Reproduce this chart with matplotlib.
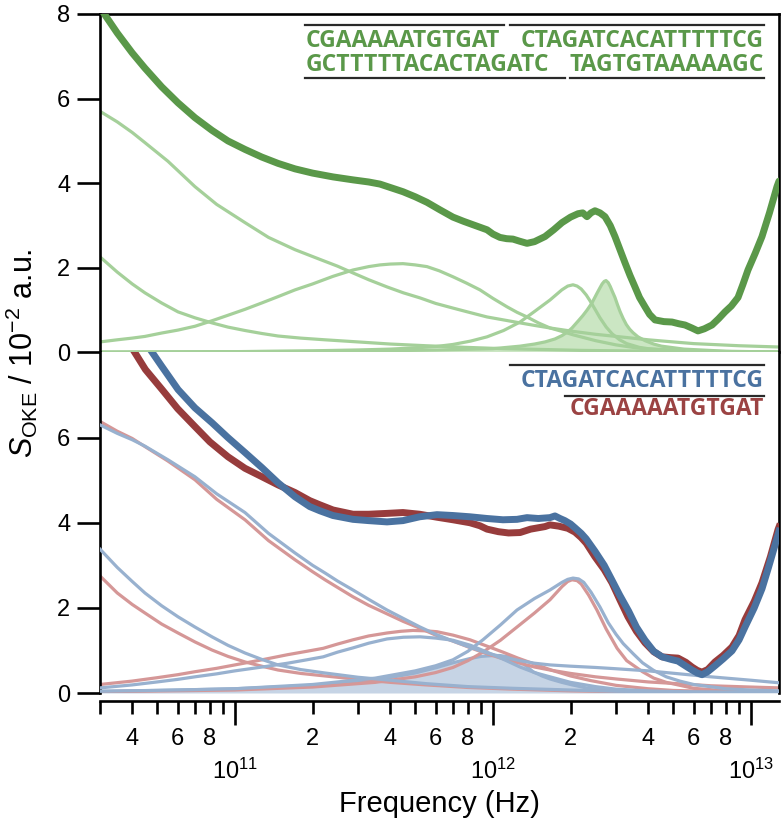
import math
import matplotlib
matplotlib.use("Agg")
import matplotlib.pyplot as plt
from matplotlib.lines import Line2D
from matplotlib.ticker import FixedLocator, FuncFormatter

plt.rcParams['font.family'] = ['Liberation Sans', 'DejaVu Sans']
plt.rcParams['mathtext.fontset'] = 'custom'
plt.rcParams['mathtext.rm'] = 'Liberation Sans'
plt.rcParams['mathtext.it'] = 'Liberation Sans:style=italic'
plt.rcParams['mathtext.bf'] = 'Liberation Sans:weight=bold'

# ---------------- data (frequency in Hz, signal in 10^-2 a.u.) ----------------
# Top panel: green duplex, measured spectrum
g_total_f = [3.0e10, 3.5e10, 4.0e10, 4.48e10, 5.2e10, 6.02e10, 7.0e10, 8.15e10, 9.4e10, 1.094e11,
             1.27e11, 1.469e11, 1.71e11, 2.0e11, 2.4e11, 2.869e11, 3.3e11, 3.651e11, 4.0e11, 4.482e11,
             5.0e11, 5.55e11, 6.2e11, 7.0e11, 7.7e11, 8.37e11, 9.49e11, 1.0e12, 1.065e12, 1.13e12,
             1.196e12, 1.27e12, 1.356e12, 1.45e12, 1.592e12, 1.72e12, 1.853e12, 2.0e12, 2.137e12, 2.23e12,
             2.316e12, 2.4e12, 2.487e12, 2.6e12, 2.72e12, 2.85e12, 2.973e12, 3.1e12, 3.251e12, 3.4e12,
             3.554e12, 3.7e12, 3.886e12, 4.05e12, 4.249e12, 4.6e12, 4.946e12, 5.25e12, 5.553e12, 5.9e12,
             6.235e12, 6.6e12, 7.068e12, 7.5e12, 7.937e12, 8.4e12, 8.913e12, 9.3e12, 9.743e12, 1.04e13,
             1.104e13, 1.18e13, 1.262e13, 1.285e13]
g_total_v = [8.15, 7.55, 7.08, 6.72, 6.28, 5.90, 5.55, 5.25, 5.00, 4.80,
             4.62, 4.47, 4.34, 4.24, 4.15, 4.08, 4.03, 3.98, 3.90, 3.80,
             3.68, 3.55, 3.38, 3.20, 3.10, 3.02, 2.90, 2.80, 2.72, 2.69,
             2.68, 2.63, 2.58, 2.62, 2.74, 2.90, 3.07, 3.20, 3.28, 3.30,
             3.21, 3.30, 3.35, 3.30, 3.21, 3.00, 2.74, 2.45, 2.12, 1.82,
             1.55, 1.30, 1.08, 0.90, 0.77, 0.73, 0.72, 0.68, 0.65, 0.58,
             0.51, 0.56, 0.65, 0.80, 0.96, 1.10, 1.30, 1.60, 1.95, 2.35,
             2.74, 3.30, 3.92, 4.05]

# fitted components (top)
gA_f = [3.0e10, 3.5e10, 4.0e10, 4.48e10, 5.5e10, 7.0e10, 8.5e10, 1.094e11, 1.35e11, 1.71e11,
        2.137e11, 2.5e11, 2.869e11, 3.3e11, 3.886e11, 4.5e11, 5.22e11, 6.0e11, 7.0e11, 8.2e11,
        9.49e11, 1.1e12, 1.274e12, 1.45e12, 1.664e12, 2.04e12, 2.5e12, 3.0e12, 4.0e12, 5.0e12,
        6.0e12, 9.0e12, 1.285e13]
gA_v = [5.70, 5.45, 5.20, 4.96, 4.52, 3.92, 3.50, 3.07, 2.72, 2.43,
        2.20, 2.04, 1.88, 1.72, 1.55, 1.41, 1.29, 1.16, 1.05, 0.94,
        0.84, 0.77, 0.70, 0.64, 0.58, 0.50, 0.43, 0.38, 0.30, 0.25,
        0.21, 0.16, 0.13]

gB_f = [3.0e10, 3.5e10, 4.0e10, 4.48e10, 5.2e10, 6.02e10, 7.0e10, 8.15e10, 9.4e10, 1.094e11,
        1.27e11, 1.469e11, 1.8e11, 2.235e11, 3.0e11, 4.0e11, 5.5e11, 8.0e11, 1.1e12, 1.6e12,
        2.2e12, 3.0e12, 6.0e12, 1.285e13]
gB_v = [2.26, 1.90, 1.62, 1.41, 1.17, 0.96, 0.82, 0.70, 0.60, 0.52,
        0.45, 0.39, 0.34, 0.30, 0.25, 0.20, 0.16, 0.12, 0.09, 0.07,
        0.05, 0.04, 0.02, 0.01]

gC_f = [3.0e10, 3.5e10, 4.0e10, 4.48e10, 5.2e10, 6.02e10, 7.0e10, 8.15e10, 9.4e10, 1.094e11,
        1.27e11, 1.469e11, 1.71e11, 2.0e11, 2.4e11, 2.869e11, 3.3e11, 3.651e11, 4.0e11, 4.482e11,
        5.0e11, 5.55e11, 6.2e11, 7.0e11, 7.9e11, 8.91e11, 1.0e12, 1.134e12, 1.24e12, 1.356e12,
        1.5e12, 1.664e12, 1.85e12, 2.04e12, 2.5e12, 3.0e12, 3.5e12, 4.0e12, 6.0e12, 1.285e13]
gC_v = [0.25, 0.30, 0.34, 0.38, 0.46, 0.53, 0.62, 0.75, 0.88, 1.02,
        1.17, 1.32, 1.48, 1.62, 1.80, 1.95, 2.03, 2.07, 2.09, 2.10,
        2.07, 2.03, 1.93, 1.79, 1.64, 1.48, 1.28, 1.08, 0.95, 0.84,
        0.70, 0.58, 0.50, 0.42, 0.28, 0.18, 0.12, 0.08, 0.03, 0.01]

gD_f = [3.0e10, 1.0e11, 2.0e11, 3.0e11, 4.0e11, 5.0e11, 6.0e11, 7.0e11, 8.2e11, 9.49e11,
        1.1e12, 1.274e12, 1.45e12, 1.664e12, 1.85e12, 1.95e12, 2.044e12, 2.12e12, 2.2e12, 2.3e12,
        2.38e12, 2.5e12, 2.6e12, 2.75e12, 2.9e12, 3.1e12, 3.3e12, 3.7e12, 4.0e12, 5.0e12,
        6.0e12, 1.285e13]
gD_v = [0.01, 0.02, 0.04, 0.06, 0.08, 0.11, 0.14, 0.19, 0.27, 0.37,
        0.52, 0.72, 0.97, 1.24, 1.48, 1.57, 1.60, 1.57, 1.50, 1.36,
        1.22, 1.00, 0.82, 0.60, 0.44, 0.30, 0.21, 0.12, 0.09, 0.05,
        0.03, 0.01]

gE_f = [3.0e10, 1.0e11, 3.0e11, 6.0e11, 1.0e12, 1.274e12, 1.45e12, 1.592e12, 1.74e12, 1.853e12,
        1.95e12, 2.026e12, 2.137e12, 2.23e12, 2.316e12, 2.42e12, 2.532e12, 2.6e12, 2.65e12, 2.7e12,
        2.744e12, 2.8e12, 2.85e12, 2.91e12, 2.973e12, 3.04e12, 3.11e12, 3.2e12, 3.29e12, 3.39e12,
        3.49e12, 3.65e12, 3.886e12, 4.2e12, 4.5e12, 5.5e12, 8.0e12, 1.285e13]
gE_v = [0.01, 0.02, 0.03, 0.06, 0.09, 0.15, 0.20, 0.25, 0.32, 0.40,
        0.49, 0.58, 0.74, 0.87, 1.00, 1.17, 1.40, 1.53, 1.62, 1.68,
        1.70, 1.65, 1.56, 1.43, 1.30, 1.13, 0.97, 0.80, 0.66, 0.55,
        0.47, 0.37, 0.28, 0.20, 0.15, 0.08, 0.03, 0.01]

# Bottom panel: single strands, measured spectra
r_total_f = [3.95e10, 4.5e10, 5.22e10, 6.0e10, 7.0e10, 8.0e10, 9.4e10, 1.094e11, 1.274e11, 1.469e11,
             1.71e11, 1.95e11, 2.137e11, 2.4e11, 2.869e11, 3.3e11, 3.886e11, 4.482e11, 5.2e11, 6.07e11,
             7.0e11, 8.15e11, 8.9e11, 9.49e11, 1.05e12, 1.15e12, 1.274e12, 1.4e12, 1.592e12, 1.664e12,
             1.8e12, 1.95e12, 2.081e12, 2.2e12, 2.3e12, 2.487e12, 2.7e12, 2.894e12, 3.1e12, 3.339e12,
             3.6e12, 3.886e12, 4.2e12, 4.523e12, 4.9e12, 5.217e12, 5.6e12, 5.911e12, 6.2e12, 6.462e12,
             6.8e12, 7.26e12, 7.8e12, 8.447e12, 9.0e12, 9.487e12, 1.03e13, 1.104e13, 1.19e13, 1.274e13,
             1.285e13]
r_total_v = [8.15, 7.60, 7.13, 6.68, 6.26, 5.90, 5.55, 5.28, 5.08, 4.89,
             4.71, 4.52, 4.42, 4.30, 4.20, 4.20, 4.22, 4.24, 4.20, 4.13,
             4.07, 4.00, 3.93, 3.85, 3.79, 3.76, 3.77, 3.85, 3.91, 3.95,
             3.92, 3.87, 3.78, 3.65, 3.52, 3.20, 2.90, 2.59, 2.20, 1.79,
             1.45, 1.18, 0.97, 0.85, 0.83, 0.82, 0.72, 0.61, 0.53, 0.49,
             0.55, 0.73, 0.88, 1.08, 1.35, 1.72, 2.15, 2.59, 3.20, 3.84,
             3.90]

b_total_f = [4.6e10, 5.2e10, 6.02e10, 7.0e10, 8.15e10, 9.4e10, 1.094e11, 1.27e11, 1.469e11, 1.71e11,
             1.95e11, 2.137e11, 2.4e11, 2.869e11, 3.3e11, 3.886e11, 4.482e11, 5.2e11, 6.07e11, 7.0e11,
             8.15e11, 9.49e11, 1.094e12, 1.24e12, 1.356e12, 1.5e12, 1.664e12, 1.74e12, 1.82e12, 1.9e12,
             2.0e12, 2.081e12, 2.2e12, 2.3e12, 2.487e12, 2.7e12, 2.894e12, 3.1e12, 3.36e12, 3.6e12,
             3.886e12, 4.2e12, 4.523e12, 4.9e12, 5.217e12, 5.6e12, 5.911e12, 6.2e12, 6.462e12, 6.8e12,
             7.26e12, 7.8e12, 8.447e12, 9.0e12, 9.487e12, 1.03e13, 1.104e13, 1.17e13, 1.274e13, 1.285e13]
b_total_v = [8.15, 7.68, 7.13, 6.70, 6.35, 6.00, 5.65, 5.30, 4.94, 4.61,
             4.38, 4.28, 4.17, 4.08, 4.05, 4.02, 4.05, 4.14, 4.19, 4.17,
             4.14, 4.10, 4.07, 4.08, 4.12, 4.10, 4.12, 4.16, 4.10, 4.05,
             3.97, 3.88, 3.75, 3.62, 3.33, 3.00, 2.65, 2.30, 1.92, 1.55,
             1.24, 0.98, 0.85, 0.79, 0.75, 0.63, 0.54, 0.47, 0.43, 0.50,
             0.64, 0.80, 0.99, 1.25, 1.55, 2.00, 2.45, 2.95, 3.72, 3.80]

# fitted components (bottom): r = red strand, b = blue strand
r1_f = [3.0e10, 3.5e10, 4.0e10, 4.48e10, 5.5e10, 7.0e10, 8.5e10, 1.094e11, 1.35e11, 1.71e11,
        2.0e11, 2.235e11, 2.5e11, 2.869e11, 3.3e11, 3.886e11, 4.5e11, 5.22e11, 6.0e11, 7.0e11,
        8.2e11, 9.49e11, 1.1e12, 1.274e12, 1.45e12, 1.664e12, 2.0e12, 2.5e12, 3.0e12, 4.0e12,
        5.5e12, 7.0e12, 1.0e13, 1.285e13]
r1_v = [6.38, 6.15, 5.98, 5.79, 5.45, 5.01, 4.55, 4.07, 3.58, 3.13,
        2.85, 2.66, 2.48, 2.26, 2.06, 1.86, 1.68, 1.52, 1.36, 1.22,
        1.06, 0.92, 0.80, 0.70, 0.61, 0.54, 0.46, 0.38, 0.33, 0.26,
        0.21, 0.17, 0.14, 0.12]

b1_f = [3.0e10, 3.5e10, 4.0e10, 4.48e10, 5.5e10, 7.0e10, 8.5e10, 1.094e11, 1.35e11, 1.71e11,
        2.0e11, 2.235e11, 2.5e11, 2.869e11, 3.3e11, 3.886e11, 4.5e11, 5.22e11, 6.0e11, 7.0e11,
        8.2e11, 9.49e11, 1.1e12, 1.274e12, 1.45e12, 1.664e12, 2.0e12, 2.5e12, 3.0e12, 4.0e12,
        5.5e12, 7.0e12, 1.0e13, 1.285e13]
b1_v = [6.30, 6.10, 5.95, 5.80, 5.48, 5.08, 4.68, 4.24, 3.75, 3.29,
        3.00, 2.82, 2.63, 2.42, 2.20, 1.95, 1.75, 1.55, 1.38, 1.22,
        1.07, 0.94, 0.84, 0.76, 0.70, 0.66, 0.63, 0.60, 0.57, 0.52,
        0.44, 0.38, 0.30, 0.24]

r2_f = [3.0e10, 3.5e10, 4.0e10, 4.48e10, 5.2e10, 6.02e10, 7.0e10, 8.15e10, 9.4e10, 1.094e11,
        1.27e11, 1.469e11, 1.8e11, 2.235e11, 3.0e11, 4.0e11, 5.5e11, 8.0e11, 1.2e12, 2.0e12,
        3.0e12, 5.0e12, 1.285e13]
r2_v = [2.75, 2.35, 2.08, 1.88, 1.62, 1.41, 1.20, 1.01, 0.86, 0.73,
        0.63, 0.54, 0.46, 0.40, 0.32, 0.25, 0.19, 0.13, 0.09, 0.05,
        0.03, 0.02, 0.01]

b2_f = [3.0e10, 3.5e10, 4.0e10, 4.48e10, 5.2e10, 6.02e10, 7.0e10, 8.15e10, 9.4e10, 1.094e11,
        1.27e11, 1.469e11, 1.8e11, 2.235e11, 3.0e11, 4.0e11, 5.5e11, 8.0e11, 1.2e12, 2.0e12,
        3.0e12, 5.0e12, 1.285e13]
b2_v = [3.38, 2.95, 2.62, 2.35, 2.05, 1.79, 1.55, 1.32, 1.12, 0.94,
        0.79, 0.66, 0.55, 0.47, 0.37, 0.30, 0.22, 0.15, 0.11, 0.07,
        0.04, 0.03, 0.01]

r3_f = [3.0e10, 4.0e10, 5.0e10, 6.0e10, 7.0e10, 8.5e10, 1.0e11, 1.274e11, 1.6e11, 1.9e11,
        2.2e11, 2.5e11, 2.869e11, 3.3e11, 3.886e11, 4.4e11, 4.9e11, 5.5e11, 6.07e11, 7.0e11,
        8.15e11, 9.5e11, 1.094e12, 1.25e12, 1.48e12, 1.7e12, 2.0e12, 2.4e12, 3.0e12, 4.0e12,
        5.0e12, 8.0e12, 1.285e13]
r3_v = [0.20, 0.28, 0.36, 0.43, 0.50, 0.58, 0.66, 0.78, 0.90, 0.98,
        1.05, 1.15, 1.25, 1.34, 1.41, 1.45, 1.47, 1.46, 1.44, 1.36,
        1.25, 1.10, 0.96, 0.82, 0.66, 0.53, 0.40, 0.29, 0.18, 0.10,
        0.06, 0.03, 0.02]

b3_f = [3.0e10, 4.0e10, 5.0e10, 6.0e10, 7.0e10, 8.5e10, 1.0e11, 1.274e11, 1.6e11, 1.9e11,
        2.2e11, 2.5e11, 2.869e11, 3.3e11, 3.886e11, 4.5e11, 5.22e11, 6.0e11, 7.0e11, 8.2e11,
        9.49e11, 1.1e12, 1.274e12, 1.45e12, 1.664e12, 2.0e12, 2.5e12, 3.0e12, 4.0e12, 6.0e12,
        1.285e13]
b3_v = [0.12, 0.19, 0.26, 0.32, 0.38, 0.45, 0.52, 0.61, 0.70, 0.78,
        0.85, 0.96, 1.06, 1.17, 1.27, 1.31, 1.32, 1.29, 1.24, 1.12,
        0.96, 0.79, 0.61, 0.48, 0.38, 0.25, 0.15, 0.09, 0.05, 0.02,
        0.01]

r4_f = [3.0e10, 1.0e11, 2.0e11, 3.5e11, 5.0e11, 6.0e11, 7.0e11, 8.0e11, 9.15e11, 1.07e12,
        1.24e12, 1.45e12, 1.664e12, 1.853e12, 1.95e12, 2.026e12, 2.12e12, 2.2e12, 2.35e12, 2.53e12,
        2.75e12, 3.03e12, 3.3e12, 3.8e12, 4.2e12, 4.7e12, 6.0e12, 8.0e12, 1.285e13]
r4_v = [0.03, 0.07, 0.14, 0.25, 0.38, 0.48, 0.60, 0.76, 0.96, 1.24,
        1.55, 1.88, 2.19, 2.50, 2.62, 2.66, 2.64, 2.56, 2.30, 1.95,
        1.50, 1.05, 0.76, 0.50, 0.35, 0.25, 0.11, 0.05, 0.02]

b4_f = [3.0e10, 6.0e10, 1.0e11, 2.0e11, 3.5e11, 5.0e11, 6.0e11, 7.0e11, 8.0e11, 9.15e11,
        1.07e12, 1.24e12, 1.45e12, 1.664e12, 1.853e12, 1.95e12, 2.044e12, 2.15e12, 2.25e12, 2.4e12,
        2.6e12, 2.8e12, 3.0e12, 3.2e12, 3.5e12, 3.8e12, 4.2e12, 4.7e12, 5.3e12, 6.0e12,
        8.0e12, 1.0e13, 1.285e13]
b4_v = [0.04, 0.07, 0.10, 0.20, 0.35, 0.52, 0.64, 0.78, 0.98, 1.25,
        1.60, 1.95, 2.22, 2.42, 2.60, 2.67, 2.70, 2.68, 2.60, 2.37,
        2.02, 1.65, 1.38, 1.16, 0.92, 0.71, 0.53, 0.38, 0.28, 0.20,
        0.10, 0.07, 0.05]

bF_f = [3.0e10, 5.0e10, 1.0e11, 1.71e11, 2.235e11, 3.0e11, 3.886e11, 5.0e11, 6.07e11, 7.0e11,
        8.15e11, 9.0e11, 1.0e12, 1.065e12, 1.15e12, 1.274e12, 1.35e12, 1.43e12, 1.55e12, 1.664e12,
        1.85e12, 2.03e12, 2.3e12, 2.6e12, 3.5e12, 6.0e12, 1.285e13]
bF_v = [0.04, 0.06, 0.10, 0.16, 0.20, 0.27, 0.35, 0.47, 0.60, 0.71,
        0.81, 0.86, 0.88, 0.88, 0.85, 0.75, 0.63, 0.50, 0.40, 0.33,
        0.25, 0.19, 0.12, 0.08, 0.03, 0.01, 0.01]

x_min, x_max = 3.0e10, 1.285e13
y_ticks_top = [0, 2, 4, 6, 8]
y_ticks_bot = [0, 2, 4, 6]
major_x = [1e11, 1e12, 1e13]
minor_x = [m * 10.0 ** e for e in (10, 11, 12) for m in range(2, 10) if m * 10.0 ** e >= x_min]
minor_labelled = (2, 4, 6, 8)

seq_top1 = ["CGAAAAATGTGAT", "CTAGATCACATTTTTCG"]
seq_top2 = ["GCTTTTTACACTAGATC", "TAGTGTAAAAAGC"]
seq_blue = "CTAGATCACATTTTTCG"
seq_red = "CGAAAAATGTGAT"

# ---------------- styling ----------------
W, H = 781, 821
DKG = '#5a9849'
LTG = '#a5d09a'
FLG = '#cbe6c3'
DKR = '#973c3c'
DKB = '#4a72a0'
LTR = '#d59797'
LTB = '#98b1cf'
FLB = '#c6d4e5'
SEQ_R = '#9b4343'

fig = plt.figure(figsize=(W / 100, H / 100), dpi=100)
L, R = 100 / W, 779 / W
ax_t = fig.add_axes([L, 1 - 352.5 / H, R - L, (352.5 - 14) / H])
ax_b = fig.add_axes([L, 1 - 693 / H, R - L, (693 - 352.5) / H])

SPW = 1.9
for ax in (ax_t, ax_b):
    ax.set_xscale('log')
    ax.set_xlim(x_min, x_max)
    ax.set_ylim(0, 8)
    for s in ax.spines.values():
        s.set_linewidth(SPW)
    ax.tick_params(axis='y', direction='out', length=16.5, width=SPW, labelsize=17, pad=5)

ax_t.spines['bottom'].set_visible(False)
ax_t.tick_params(axis='x', which='both', bottom=False, labelbottom=False)
ax_t.set_yticks(y_ticks_top)
ax_b.spines['top'].set_visible(False)
ax_b.spines['bottom'].set_position(('outward', 6))
ax_b.set_yticks(y_ticks_bot)

ax_b.xaxis.set_major_locator(FixedLocator(major_x))
ax_b.xaxis.set_minor_locator(FixedLocator(minor_x))
ax_b.xaxis.set_major_formatter(FuncFormatter(lambda v, p: r'$10^{%d}$' % round(math.log10(v))))


def minor_fmt(v, p):
    m = round(v / 10 ** math.floor(math.log10(v) + 1e-9))
    return str(m) if m in minor_labelled else ''


ax_b.xaxis.set_minor_formatter(FuncFormatter(minor_fmt))
ax_b.tick_params(axis='x', which='major', direction='out', length=17, width=SPW, labelsize=17, pad=24)
ax_b.tick_params(axis='x', which='minor', direction='out', length=9.5, width=SPW, labelsize=17, pad=10)

# ---------------- curves ----------------
thin = 2.3
for f, v in [(gA_f, gA_v), (gB_f, gB_v), (gC_f, gC_v), (gD_f, gD_v)]:
    ax_t.plot(f, v, color=LTG, lw=thin, solid_joinstyle='round', zorder=2)
ax_t.fill_between(gE_f, 0, gE_v, color=FLG, lw=0, zorder=1)
ax_t.plot(gE_f, gE_v, color=LTG, lw=thin, solid_joinstyle='round', zorder=2)
ax_t.plot(g_total_f, g_total_v, color=DKG, lw=5.0, solid_joinstyle='round',
          solid_capstyle='round', zorder=4)

ax_b.fill_between(bF_f, 0, bF_v, color=FLB, lw=0, zorder=1)
ax_b.plot(bF_f, bF_v, color=LTB, lw=thin, solid_joinstyle='round', zorder=2)
for f, v in [(r1_f, r1_v), (r2_f, r2_v), (r3_f, r3_v), (r4_f, r4_v)]:
    ax_b.plot(f, v, color=LTR, lw=thin, solid_joinstyle='round', zorder=2)
for f, v in [(b1_f, b1_v), (b2_f, b2_v), (b3_f, b3_v), (b4_f, b4_v)]:
    ax_b.plot(f, v, color=LTB, lw=thin, solid_joinstyle='round', zorder=3)
ax_b.plot(r_total_f, r_total_v, color=DKR, lw=5.0, solid_joinstyle='round', zorder=4)
ax_b.plot(b_total_f, b_total_v, color=DKB, lw=5.0, solid_joinstyle='round', zorder=5)

# ---------------- labels ----------------
ax_b.set_xlabel('Frequency (Hz)', fontsize=21, labelpad=5)
yl = fig.text(22 / W, 1 - 353 / H, r'$S_{\mathrm{OKE}}$ / 10$^{-2}$ a.u.', rotation=90,
              ha='center', va='center', fontsize=22)


# ---------------- sequence annotations ----------------
def ftxt(x, y, s, color, ha):
    fig.text(x / W, 1 - y / H, s, color=color, ha=ha, va='center', fontsize=16.5,
             family=['Open Sans', 'DejaVu Sans'], weight='bold')


def fbar(x0, x1, y):
    fig.add_artist(Line2D([x0 / W, x1 / W], [1 - y / H, 1 - y / H], color='#2a2a2a',
                          lw=1.6, transform=fig.transFigure))


ftxt(306, 41, seq_top1[0], DKG, 'left')
ftxt(764, 41, seq_top1[1], DKG, 'right')
ftxt(306, 65, seq_top2[0], DKG, 'left')
ftxt(764, 65, seq_top2[1], DKG, 'right')
fbar(305, 504, 25)
fbar(510, 764, 25)
fbar(305, 565, 78)
fbar(570, 764, 78)

ftxt(764, 381, seq_blue, DKB, 'right')
ftxt(764, 409, seq_red, SEQ_R, 'right')
fbar(510, 764, 365)
fbar(565, 764, 396)

fig.savefig('out.png', dpi=100)
